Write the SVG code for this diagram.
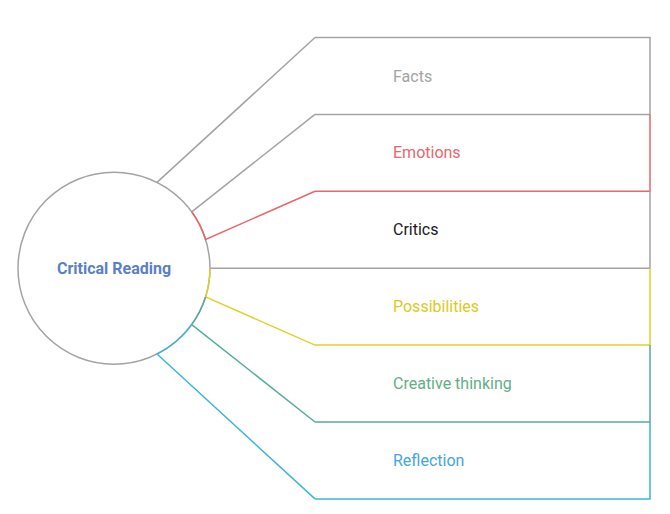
<svg xmlns="http://www.w3.org/2000/svg" width="670" height="514" viewBox="0 0 670 514">
<style>
.ln{fill:none;stroke-width:1.5;stroke-linejoin:miter}
.lbl{font-family:Roboto,"Liberation Sans",sans-serif;font-size:16px;dominant-baseline:central}
.grey{stroke:#a3a3a3}.red{stroke:#e8676a}.yel{stroke:#e0d12a}.teal{stroke:#56aa9c}.cyan{stroke:#3cb6d8}
</style>
<rect width="670" height="514" fill="#ffffff"/>
<g id="center">
<circle cx="114" cy="268.2" r="96" fill="#ffffff" stroke="#a3a3a3" stroke-width="1.5"/>
<text x="114" y="268.2" text-anchor="middle" class="lbl" font-weight="bold" fill="#5b7fc7">Critical Reading</text>
</g>
<g id="connectors">
<path class="ln grey" d="M157,182.4 L315,37.5"/>
<path class="ln grey" d="M191.7,211.8 L315,114.4"/>
<path class="ln red" d="M191.7,211.8 A96,96 0 0 1 205.6,239.5 L315,191.3"/>
<path class="ln grey" d="M210,268.2 L315,268.2"/>
<path class="ln yel" d="M210,268.2 A96,96 0 0 1 205.6,296.9 L315,345.1"/>
<path class="ln teal" d="M205.6,296.9 A96,96 0 0 1 191.7,324.6 L315,422"/>
<path class="ln cyan" d="M191.7,324.6 A96,96 0 0 1 157,354 L315,498.9"/>
</g>
<g id="facts">
<path class="ln grey" d="M315,37.5 H650 V114.4 H315"/>
<text x="393" y="76" class="lbl" fill="#a3a3a3">Facts</text>
</g>
<g id="emotions">
<path class="ln red" d="M315,191.3 H650 V114.4"/>
<text x="393" y="152.9" class="lbl" fill="#e8676a">Emotions</text>
</g>
<g id="critics">
<path class="ln grey" d="M315,268.2 H650 V191.3"/>
<text x="393" y="229.8" class="lbl" fill="#1a1a1a">Critics</text>
</g>
<g id="possibilities">
<path class="ln yel" d="M315,345.1 H650 V268.2"/>
<text x="393" y="306.6" class="lbl" fill="#dcc922">Possibilities</text>
</g>
<g id="creative">
<path class="ln teal" d="M315,422 H650 V345.1"/>
<text x="393" y="383.5" class="lbl" fill="#5fae86">Creative thinking</text>
</g>
<g id="reflection">
<path class="ln cyan" d="M315,498.9 H650 V422"/>
<text x="393" y="460.4" class="lbl" fill="#46a6d6">Reflection</text>
</g>
</svg>
